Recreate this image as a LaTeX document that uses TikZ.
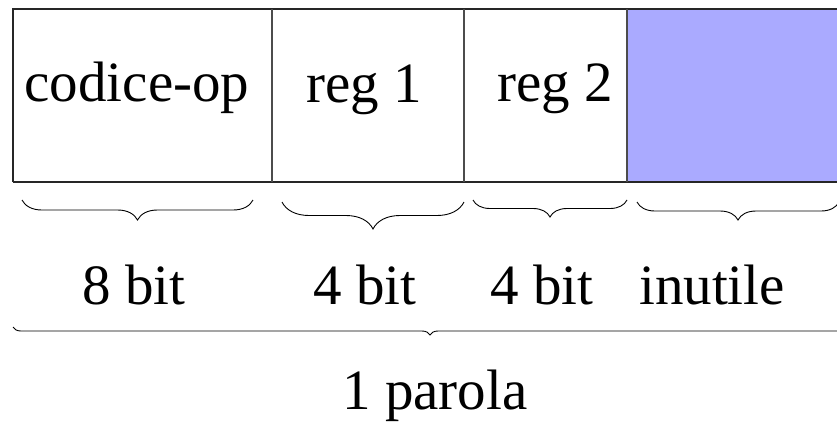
\documentclass[tikz,border=0pt]{standalone}
\usepackage{fontspec}
\setmainfont{Liberation Serif}
\usetikzlibrary{decorations.pathreplacing}
\definecolor{unusedblue}{RGB}{170,170,255}

\begin{document}
\begin{tikzpicture}[
    x=1pt, y=-1pt,
    frame line/.style={line width=1.3pt, black!85},
    divider line/.style={line width=1.1pt, black!70},
    brace line/.style={line width=0.9pt, decorate},
    every node/.style={color=black, inner sep=0pt, anchor=base,
    font=\fontsize{57}{62}\selectfont}
    ]
    \useasboundingbox (0,0) rectangle (837,421);
    % fields
    \fill[unusedblue] (627,9) rectangle (850,182);
    \draw[frame line] (13,182) -- (13,9) -- (850,9);
    \draw[frame line] (13,182) -- (850,182);
    \foreach \x in {272,464,627}
        \draw[divider line] (\x,9) -- (\x,182);
    \node (codop) at (137,101) {codice-op};
    \node (regone) at (364,102) {reg 1};
    \node (regtwo) at (555,101) {reg 2};

    % braces
    \draw[brace line, decoration={brace, amplitude=20pt}] (253,200) coordinate (opR) -- (22,200) coordinate (opL);
    \draw[brace line, decoration={brace, amplitude=27pt}] (464,202) coordinate (oneR) -- (282,202) coordinate (oneL);
    \draw[brace line, decoration={brace, amplitude=17pt}] (627,200) coordinate (twoR) -- (473,200) coordinate (twoL);
    \draw[brace line, decoration={brace, amplitude=18pt}] (839,202) coordinate (freeR) -- (637,202) coordinate (freeL);
    \node (opbits) at (134,304) {8 bit};
    \node (onebits) at (365,304) {4 bit};
    \node (twobits) at (542,304) {4 bit};
    \node (freebits) at (712,304) {inutile};

    \draw[brace line, decoration={brace, amplitude=8pt}] (847,327) coordinate (wordR) -- (13,327) coordinate (wordL);
    \node (word) at (435,409) {1 parola};
\end{tikzpicture}
\end{document}
